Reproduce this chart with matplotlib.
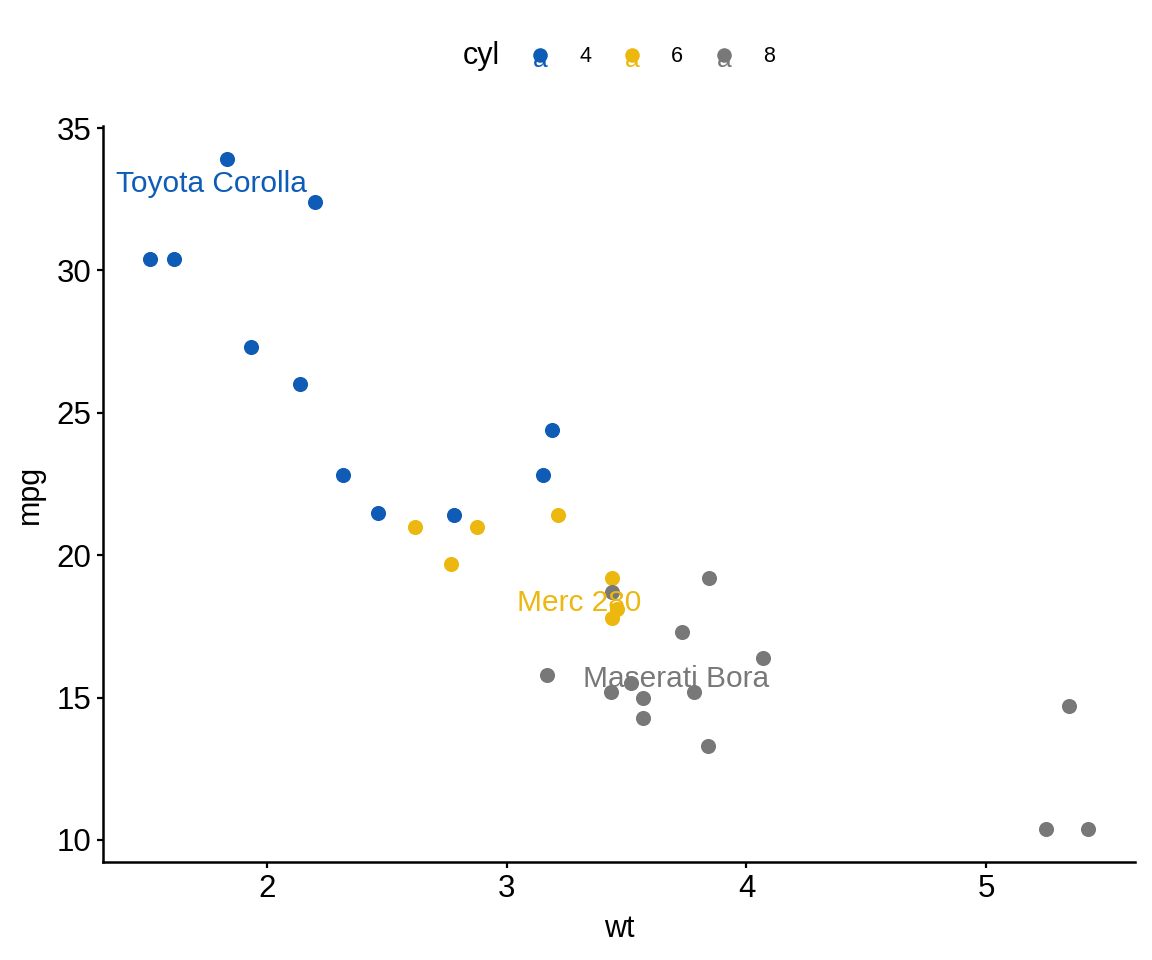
import matplotlib
matplotlib.use("Agg")
import matplotlib.pyplot as plt
from matplotlib.lines import Line2D

plt.rcParams["font.family"] = ["Liberation Sans", "DejaVu Sans"]

# mtcars: weight, mpg, cylinders
cars = ["Mazda RX4", "Mazda RX4 Wag", "Datsun 710", "Hornet 4 Drive", "Hornet Sportabout",
        "Valiant", "Duster 360", "Merc 240D", "Merc 230", "Merc 280", "Merc 280C",
        "Merc 450SE", "Merc 450SL", "Merc 450SLC", "Cadillac Fleetwood",
        "Lincoln Continental", "Chrysler Imperial", "Fiat 128", "Honda Civic",
        "Toyota Corolla", "Toyota Corona", "Dodge Challenger", "AMC Javelin",
        "Camaro Z28", "Pontiac Firebird", "Fiat X1-9", "Porsche 914-2", "Lotus Europa",
        "Ford Pantera L", "Ferrari Dino", "Maserati Bora", "Volvo 142E"]
wt = [2.620, 2.875, 2.320, 3.215, 3.440, 3.460, 3.570, 3.190, 3.150, 3.440, 3.440,
      4.070, 3.730, 3.780, 5.250, 5.424, 5.345, 2.200, 1.615, 1.835, 2.465, 3.520,
      3.435, 3.840, 3.845, 1.935, 2.140, 1.513, 3.170, 2.770, 3.570, 2.780]
mpg = [21.0, 21.0, 22.8, 21.4, 18.7, 18.1, 14.3, 24.4, 22.8, 19.2, 17.8, 16.4, 17.3,
       15.2, 10.4, 10.4, 14.7, 32.4, 30.4, 33.9, 21.5, 15.5, 15.2, 13.3, 19.2, 27.3,
       26.0, 30.4, 15.8, 19.7, 15.0, 21.4]
cyl = [6, 6, 4, 6, 8, 6, 8, 4, 4, 6, 6, 8, 8, 8, 8, 8, 8, 4, 4, 4, 4, 8, 8, 8, 8, 4,
       4, 4, 8, 6, 8, 4]

cyl_levels = [4, 6, 8]
palette = {4: "#0E5CB6", 6: "#ECB70E", 8: "#787878"}

labelled = ["Toyota Corolla", "Merc 280", "Maserati Bora"]
label_offsets = {"Toyota Corolla": (-16, -25), "Merc 280": (-33, -25),
                 "Maserati Bora": (33, 19)}

fig = plt.figure(figsize=(11.52, 9.6), dpi=100)
ax = fig.add_axes([103 / 1152, 98 / 960, 1032 / 1152, 736 / 960])

for c in cyl_levels:
    xs = [w for w, k in zip(wt, cyl) if k == c]
    ys = [m for m, k in zip(mpg, cyl) if k == c]
    ax.scatter(xs, ys, s=118, color=palette[c], linewidths=0, zorder=3)

for name in labelled:
    i = cars.index(name)
    dx, dy = label_offsets[name]
    ax.annotate(name, (wt[i], mpg[i]), xytext=(dx, dy), textcoords="offset pixels",
                ha="center", va="center", fontsize=21.5, color=palette[cyl[i]], zorder=4)

# ggplot-style 5% expansion
xr = max(wt) - min(wt)
yr = max(mpg) - min(mpg)
ax.set_xlim(min(wt) - 0.05 * xr, max(wt) + 0.05 * xr)
ax.set_ylim(min(mpg) - 0.05 * yr, max(mpg) + 0.05 * yr)
ax.set_xticks([2, 3, 4, 5])
ax.set_yticks([10, 15, 20, 25, 30, 35])

for side in ["top", "right"]:
    ax.spines[side].set_visible(False)
for side in ["left", "bottom"]:
    ax.spines[side].set_linewidth(1.8)
ax.tick_params(width=1.6, length=4.5, labelsize=22.5, pad=4, color="black")
ax.set_xlabel("wt", fontsize=22, labelpad=7)
ax.set_ylabel("mpg", fontsize=22, labelpad=8)

# legend on top: title then dot + "a" keys
ly = 1 - 56 / 960
fig.text(481 / 1152, ly, "cyl", fontsize=22, ha="center", va="center")
key_x = [540, 632, 724]
for c, kx in zip(cyl_levels, key_x):
    fig.text(kx / 1152, ly - 4 / 960, "a", fontsize=19, color=palette[c],
             ha="center", va="center")
    fig.add_artist(Line2D([kx / 1152], [ly + 1 / 960], transform=fig.transFigure,
                          marker="o", ms=10.5, mew=0, color=palette[c], ls=""))
    fig.text((kx + 45) / 1152, ly, str(c), fontsize=15.5, ha="center", va="center")

fig.savefig("out.png", dpi=100)
